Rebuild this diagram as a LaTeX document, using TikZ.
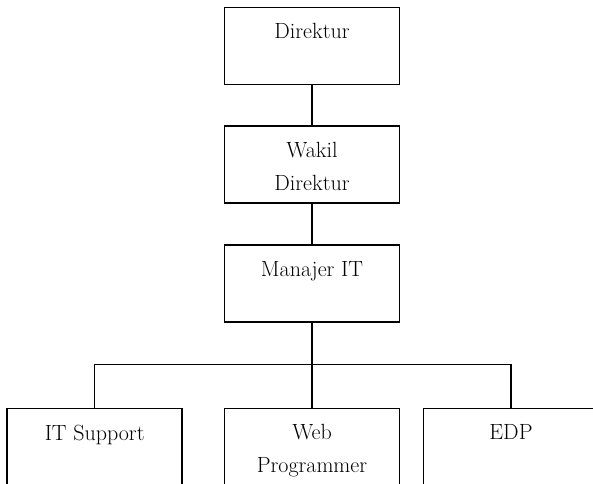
\documentclass[tikz,border=0pt]{standalone}
\usetikzlibrary{positioning}
\tikzstyle{jabatan} = [rectangle, draw, line width=1.1pt, 
    minimum width=131.25pt, minimum height=57.75pt, inner sep=0pt]
\tikzstyle{nama} = [anchor=north, yshift=-12.5pt, inner sep=0pt, align=center]
\tikzstyle{line} = [draw, line width=1.1pt]

\begin{document}
\begin{tikzpicture}[font=\fontsize{16.5}{24.75}\selectfont]
    \useasboundingbox (0,0) rectangle (444.75pt,-363pt);
    % Place nodes
    \node [jabatan, label={[nama]north:Direktur}] (direktur) at (234pt,-34.5pt) {};
    \node [jabatan, below of=direktur, node distance=89pt, label={[nama]north:Wakil\\Direktur}] (wakil) {};
    \node [jabatan, below of=wakil, node distance=89pt, label={[nama]north:Manajer IT}] (manajer) {};
    \node [jabatan, below of=manajer, node distance=122.75pt, label={[nama]north:Web\\Programmer}] (web) {};
    \node [jabatan, left of=web, node distance=163pt, label={[nama]north:IT Support}] (itsupport) {};
    \node [jabatan, right of=web, node distance=149.25pt, label={[nama]north:EDP}] (edp) {};
    % Draw edges
    \path [line] (direktur) -- (wakil);
    \path [line] (wakil) -- (manajer);
    \path [line] (manajer.south) -- ++(0,-31.5pt) coordinate (cabang);
    \path [line] (cabang) -- (web.north);
    \path [line] (itsupport.north) |- (cabang) -| (edp.north);
\end{tikzpicture}
\end{document}
